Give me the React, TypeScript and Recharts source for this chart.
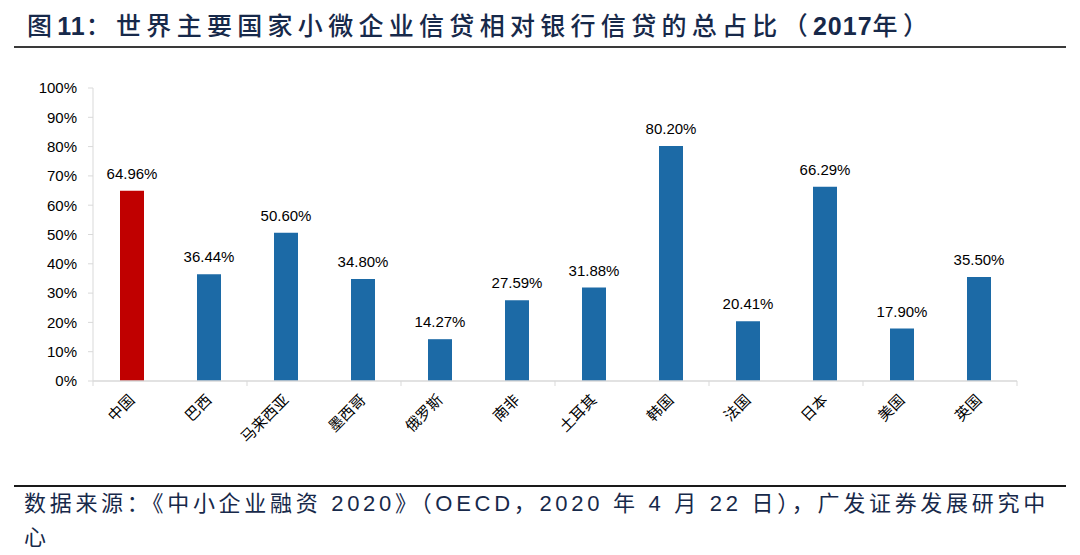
import { BarChart, Bar, XAxis, YAxis, Cell, LabelList } from "recharts";

const countries = [
  "中国",
  "巴西",
  "马来西亚",
  "墨西哥",
  "俄罗斯",
  "南非",
  "土耳其",
  "韩国",
  "法国",
  "日本",
  "美国",
  "英国",
];
const smeShares = [64.96, 36.44, 50.6, 34.8, 14.27, 27.59, 31.88, 80.2, 20.41, 66.29, 17.9, 35.5];
const yTicks = [0, 10, 20, 30, 40, 50, 60, 70, 80, 90, 100];
const highlight = "中国";

const CHART_W = 1080;
const CHART_H = 555;
const MARGIN = { top: 88, right: 63, bottom: 114, left: 33 };
const Y_AXIS_W = 60;
const PLOT_W = CHART_W - MARGIN.left - MARGIN.right - Y_AXIS_W;
const BAND = PLOT_W / countries.length;

const titleColor = "#17294a";
const axisColor = "#d9d9d9";

const chartData = countries.map((name, i) => ({ name, value: smeShares[i] }));

const CategoryTick = (props: any) => {
  const { x, y, payload, index } = props;
  const last = index === countries.length - 1;
  const tx = x + 4;
  const ty = y + 20;
  return (
    <g>
      {index % 2 === 0 && (
        <line x1={x - BAND / 2} x2={x - BAND / 2} y1={y} y2={y + 5} stroke={axisColor} />
      )}
      {last && <line x1={x + BAND / 2} x2={x + BAND / 2} y1={y} y2={y + 5} stroke={axisColor} />}
      <text
        x={tx}
        y={ty}
        textAnchor="end"
        transform={`rotate(-45, ${tx}, ${ty})`}
        fontSize={15}
        fontFamily="'Noto Sans CJK SC'"
        fill="#000"
      >
        {payload.value}
      </text>
    </g>
  );
};

const num = { fontWeight: 700, letterSpacing: 1, fontFamily: "'Liberation Sans', Arial" };

const App = () => {
  return (
    <div
      style={{
        position: "absolute",
        left: 0,
        top: 0,
        width: CHART_W,
        height: CHART_H,
        background: "#fff",
        fontFamily: "'Noto Sans CJK SC', sans-serif",
      }}
    >
      <div
        style={{
          position: "absolute",
          left: 27,
          top: 6,
          fontSize: 25,
          fontWeight: 500,
          letterSpacing: 5.3,
          color: titleColor,
          whiteSpace: "nowrap",
        }}
      >
        图<span style={num}>11</span>：世界主要国家小微企业信贷相对银行信贷的总占比（
        <span style={num}>2017</span>年）
      </div>
      <div
        style={{
          position: "absolute",
          left: 14,
          top: 46,
          width: 1052,
          height: 2,
          background: "#3a3a3a",
        }}
      />
      <div style={{ position: "absolute", left: 0, top: 0 }}>
        <BarChart width={CHART_W} height={CHART_H} data={chartData} margin={MARGIN}>
          <XAxis
            dataKey="name"
            interval={0}
            height={60}
            tickSize={0}
            tickMargin={0}
            tickLine={false}
            axisLine={{ stroke: axisColor, strokeWidth: 1.5 }}
            tick={<CategoryTick />}
          />
          <YAxis
            width={Y_AXIS_W}
            domain={[0, 100]}
            ticks={yTicks}
            tickFormatter={(v) => `${v}%`}
            axisLine={{ stroke: axisColor }}
            tickLine={{ stroke: axisColor }}
            tickSize={5}
            tickMargin={11}
            tick={{ fill: "#000", fontSize: 15, fontFamily: "'Liberation Sans', Arial" }}
          />
          <Bar dataKey="value" barSize={24} isAnimationActive={false}>
            {chartData.map((d) => (
              <Cell key={d.name} fill={d.name === highlight ? "#c00000" : "#1c6aa6"} />
            ))}
            <LabelList
              dataKey="value"
              position="top"
              offset={12}
              formatter={(v: any) => `${Number(v).toFixed(2)}%`}
              fill="#000"
              fontSize={15}
              fontFamily="'Liberation Sans', Arial"
            />
          </Bar>
        </BarChart>
      </div>
      <div
        style={{
          position: "absolute",
          left: 14,
          top: 485,
          width: 1052,
          height: 2,
          background: "#1a1a1a",
        }}
      />
      <div
        style={{
          position: "absolute",
          left: 24,
          top: 487,
          fontSize: 22,
          lineHeight: "34px",
          letterSpacing: 3.7,
          color: titleColor,
          whiteSpace: "nowrap",
          fontFamily: "'Liberation Sans', 'Noto Sans CJK SC', sans-serif",
        }}
      >
        数据来源：《中小企业融资 2020》（OECD，2020 年 4 月 22 日），广发证券发展研究中
        <br />心
      </div>
    </div>
  );
};

export default App;
